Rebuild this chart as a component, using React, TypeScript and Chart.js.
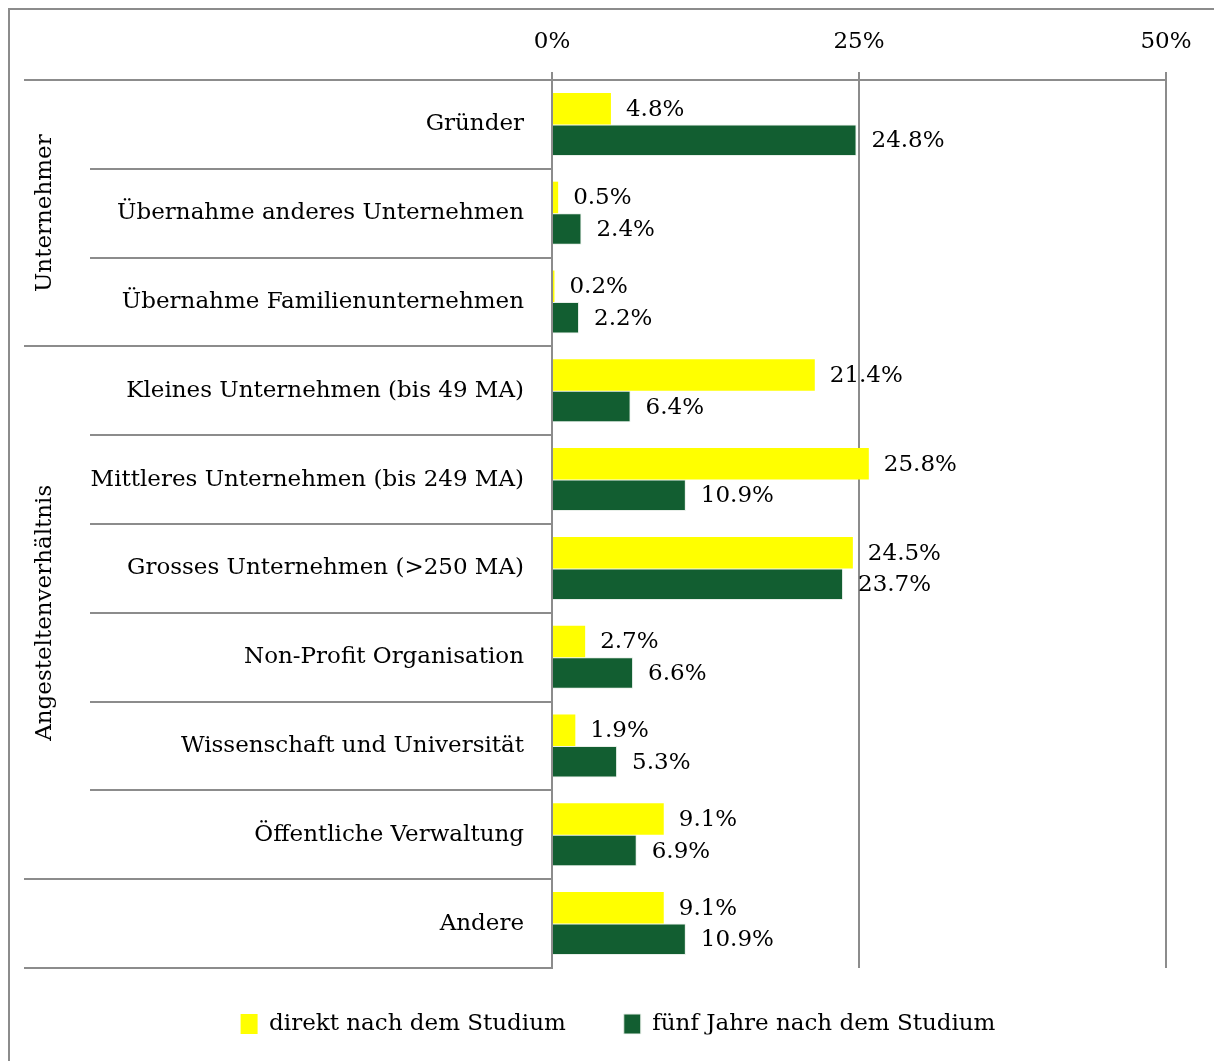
import { useEffect, useRef } from "react";
import { Chart, registerables } from "chart.js";

Chart.register(...registerables);

const categories = [
  "Gründer",
  "Übernahme anderes Unternehmen",
  "Übernahme Familienunternehmen",
  "Kleines Unternehmen (bis 49 MA)",
  "Mittleres Unternehmen (bis 249 MA)",
  "Grosses Unternehmen (>250 MA)",
  "Non-Profit Organisation",
  "Wissenschaft und Universität",
  "Öffentliche Verwaltung",
  "Andere",
];
const seriesNames = ["direkt nach dem Studium", "fünf Jahre nach dem Studium"];
const direktValues = [4.8, 0.5, 0.2, 21.4, 25.8, 24.5, 2.7, 1.9, 9.1, 9.1];
const fuenfValues = [24.8, 2.4, 2.2, 6.4, 10.9, 23.7, 6.6, 5.3, 6.9, 10.9];
const xTickValues = [0, 25, 50];
const groupLabels = ["Unternehmer", "Angesteltenverhältnis"];
const groupStarts = [0, 3];
const groupEnds = [3, 9];
const groupBreaks = [0, 3, 9, 10];

const FONT = "'DejaVu Serif', serif";
const FS = 23;
const GRID = "#8c8c8c";
const YELLOW = "#ffff00";
const GREEN = "#125e31";
const LEGEND_PAD = 58;

const separatorPlugin = {
  id: "separators",
  afterDraw(chart: any) {
    const { ctx, chartArea, scales } = chart;
    const y = scales.y;
    const step = y.getPixelForValue(1) - y.getPixelForValue(0);
    const first = y.getPixelForValue(0) - step / 2;
    ctx.save();
    ctx.strokeStyle = GRID;
    ctx.lineWidth = 2;
    for (let i = 0; i <= categories.length; i++) {
      const py = Math.round(first + i * step);
      const long = groupBreaks.includes(i);
      ctx.beginPath();
      ctx.moveTo(long ? 14 : 80, py);
      ctx.lineTo(chartArea.left, py);
      ctx.stroke();
    }
    ctx.fillStyle = "#000";
    ctx.font = `${FS}px ${FONT}`;
    ctx.textAlign = "center";
    ctx.textBaseline = "middle";
    groupLabels.forEach((g, k) => {
      const cy = first + ((groupStarts[k] + groupEnds[k]) / 2) * step;
      ctx.save();
      ctx.translate(35, cy);
      ctx.rotate(-Math.PI / 2);
      ctx.fillText(g, 0, 0);
      ctx.restore();
    });
    ctx.restore();
  },
};

const valueLabelPlugin = {
  id: "valueLabels",
  afterDatasetsDraw(chart: any) {
    const { ctx } = chart;
    ctx.save();
    ctx.fillStyle = "#000";
    ctx.font = `${FS}px ${FONT}`;
    ctx.textAlign = "left";
    ctx.textBaseline = "middle";
    chart.data.datasets.forEach((ds: any, di: number) => {
      const meta = chart.getDatasetMeta(di);
      meta.data.forEach((el: any, i: number) => {
        ctx.fillText(`${Number(ds.data[i]).toFixed(1)}%`, el.x + 15, el.y + 1);
      });
    });
    ctx.restore();
  },
};

const legendPlacePlugin = {
  id: "legendPlace",
  afterLayout(chart: any) {
    const lg = chart.legend;
    if (!lg) return;
    const dx = 608 - (lg.left + lg.right) / 2;
    lg.left += dx;
    lg.right += dx;
    const h = lg.bottom - lg.top;
    lg.top = 1014 - LEGEND_PAD - FS / 2;
    lg.bottom = lg.top + h;
  },
};

export default function App() {
  const ref = useRef<HTMLCanvasElement | null>(null);
  useEffect(() => {
    if (!ref.current) return;
    const chart = new Chart(ref.current, {
      type: "bar",
      data: {
        labels: categories,
        datasets: [
          {
            label: seriesNames[0],
            data: direktValues,
            backgroundColor: YELLOW,
            borderWidth: 0,
            categoryPercentage: 0.71,
            barPercentage: 1.0,
          },
          {
            label: seriesNames[1],
            data: fuenfValues,
            backgroundColor: GREEN,
            borderColor: "#e8efe9",
            borderWidth: 1,
            categoryPercentage: 0.71,
            barPercentage: 1.0,
          },
        ],
      },
      options: {
        indexAxis: "y",
        responsive: false,
        animation: false,
        layout: { padding: { left: 0, right: 48, top: 0, bottom: 13 } },
        scales: {
          x: {
            position: "top",
            min: 0,
            max: 50,
            afterBuildTicks: (scale: any) => {
              scale.ticks = xTickValues.map((v) => ({ value: v }));
            },
            afterFit: (scale: any) => {
              scale.height = 70;
            },
            ticks: {
              callback: (v: any) => `${v}%`,
              color: "#000",
              font: { family: FONT, size: FS },
              padding: 16,
              maxRotation: 0,
            },
            grid: {
              color: GRID,
              lineWidth: 2,
              drawTicks: true,
              tickLength: 8,
              tickColor: GRID,
            },
            border: { display: true, color: GRID, width: 2 },
          },
          y: {
            afterFit: (scale: any) => {
              scale.width = 542;
            },
            ticks: {
              color: "#000",
              font: { family: FONT, size: FS },
              padding: 28,
              crossAlign: "near",
            },
            grid: { display: false, drawTicks: false },
            border: { display: true, color: GRID, width: 2 },
          },
        },
        plugins: {
          legend: {
            position: "bottom",
            maxHeight: 80,
            labels: {
              color: "#000",
              font: { family: FONT, size: FS },
              boxWidth: 17,
              boxHeight: 20,
              padding: LEGEND_PAD,
            },
          },
          tooltip: { enabled: false },
        },
      },
      plugins: [separatorPlugin, valueLabelPlugin, legendPlacePlugin],
    });
    return () => chart.destroy();
  }, []);

  return (
    <div
      style={{
        position: "fixed",
        left: 0,
        top: 0,
        width: 1214,
        height: 1061,
        overflow: "hidden",
        background: "#fff",
      }}
    >
      <div
        style={{
          position: "absolute",
          left: 8,
          top: 8,
          borderLeft: `2px solid ${GRID}`,
          borderTop: `2px solid ${GRID}`,
          width: 1205,
          height: 1052,
        }}
      >
        <canvas ref={ref} width={1204} height={1051} style={{ display: "block" }} />
      </div>
    </div>
  );
}
